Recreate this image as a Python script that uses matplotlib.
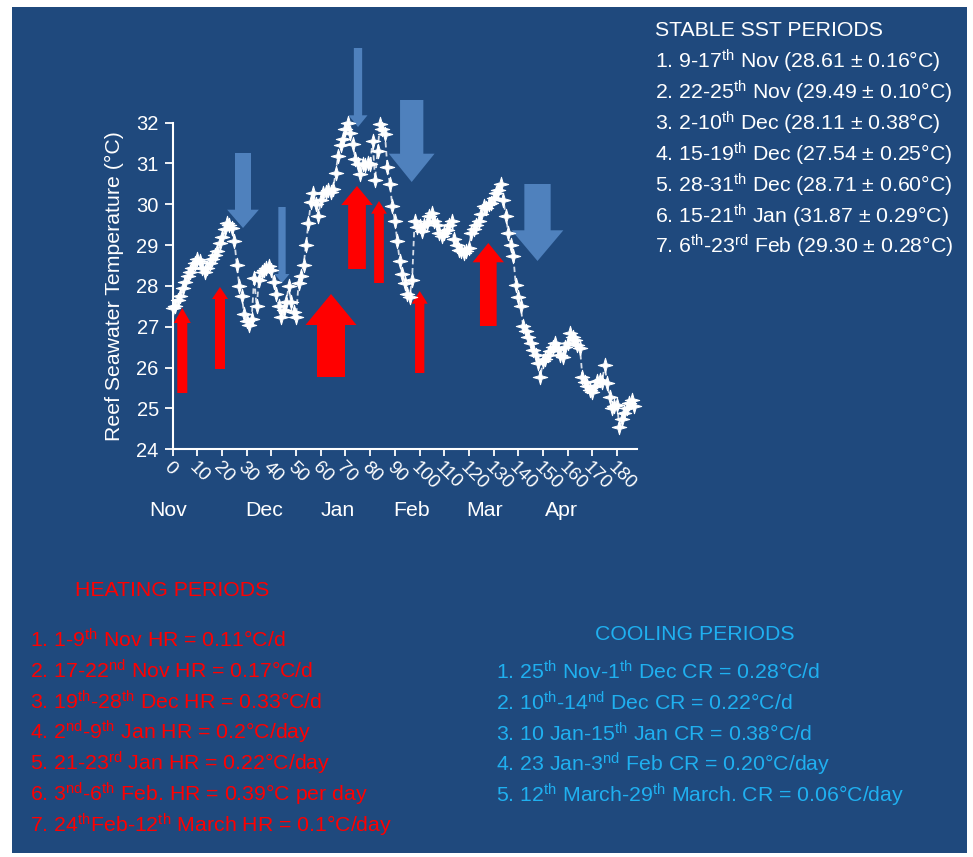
import matplotlib
matplotlib.use("Agg")
import matplotlib.pyplot as plt
from matplotlib.patches import Polygon
from matplotlib.path import Path
import matplotlib.transforms as mtransforms
import numpy as np

plt.rcParams['font.family'] = ['Liberation Sans', 'DejaVu Sans']
plt.rcParams['mathtext.fontset'] = 'custom'
plt.rcParams['mathtext.rm'] = 'Liberation Sans'
plt.rcParams['mathtext.it'] = 'Liberation Sans:italic'
plt.rcParams['mathtext.bf'] = 'Liberation Sans:bold'

# ---------------- data ----------------
temps = [
    27.45, 27.5, 27.65, 27.75, 27.95, 28.1, 28.25, 28.35, 28.45, 28.55,
    28.65, 28.6, 28.45, 28.35, 28.45, 28.55, 28.65, 28.75, 28.85, 29.05,
    29.2, 29.4, 29.55, 29.5, 29.42, 29.1, 28.5, 28.0, 27.75, 27.3,
    27.15, 27.05, 27.2, 28.2, 27.5, 28.15, 28.35, 28.4, 28.45, 28.48,
    28.4, 28.1, 27.8, 27.5, 27.25, 27.4, 27.6, 28.0, 27.6, 27.35,
    27.25, 28.07, 28.24, 28.5, 29.0, 29.55, 30.05, 30.28, 30.0, 29.7,
    30.1, 30.28, 30.3, 30.35, 30.3, 30.36, 30.77, 31.18, 31.45, 31.6,
    31.83, 32.0, 31.75, 31.47, 31.1, 30.98, 30.75, 30.98, 30.95, 31.0,
    30.98, 31.55, 30.6, 31.3, 31.96, 31.85, 31.71, 30.9, 30.5, 29.95,
    29.6, 29.1, 28.6, 28.3, 28.07, 27.8, 27.74, 28.15, 29.59, 29.45,
    29.46, 29.35, 29.5, 29.55, 29.7, 29.79, 29.6, 29.5, 29.3, 29.22,
    29.3, 29.38, 29.5, 29.59, 29.14, 29.0, 28.89, 28.85, 28.81, 28.85,
    28.93, 29.3, 29.4, 29.5, 29.6, 29.75, 29.95, 29.9, 30.0, 30.04,
    30.15, 30.28, 30.35, 30.49, 30.1, 29.7, 29.3, 29.0, 28.73, 28.03,
    27.74, 27.5, 27.01, 26.9, 26.76, 26.6, 26.44, 26.3, 26.11, 25.78,
    26.15, 26.2, 26.3, 26.4, 26.5, 26.6, 26.45, 26.3, 26.27, 26.5,
    26.6, 26.85, 26.75, 26.68, 26.55, 26.48, 25.78, 25.65, 25.54, 25.45,
    25.41, 25.55, 25.66, 25.7, 25.65, 26.07, 25.62, 25.29, 25.0, 25.05,
    25.09, 24.55, 24.75, 24.88, 25.0, 25.13, 25.21, 25.05,
]
days = list(range(len(temps)))

x_ticks = list(range(0, 181, 10))
y_ticks = list(range(24, 33))
months = ["Nov", "Dec", "Jan", "Feb", "Mar", "Apr"]
y_label = "Reef Seawater Temperature (°C)"

stable_title = "STABLE SST PERIODS"
stable_lines = [
    r"1. 9-17$^{\mathrm{th}}$ Nov (28.61 ± 0.16°C)",
    r"2. 22-25$^{\mathrm{th}}$ Nov (29.49 ± 0.10°C)",
    r"3. 2-10$^{\mathrm{th}}$ Dec (28.11 ± 0.38°C)",
    r"4. 15-19$^{\mathrm{th}}$ Dec (27.54 ± 0.25°C)",
    r"5. 28-31$^{\mathrm{th}}$ Dec (28.71 ± 0.60°C)",
    r"6. 15-21$^{\mathrm{th}}$ Jan (31.87 ± 0.29°C)",
    r"7. 6$^{\mathrm{th}}$-23$^{\mathrm{rd}}$ Feb (29.30 ± 0.28°C)",
]
heating_title = "HEATING PERIODS"
heating_lines = [
    r"1. 1-9$^{\mathrm{th}}$ Nov HR = 0.11°C/d",
    r"2. 17-22$^{\mathrm{nd}}$ Nov HR = 0.17°C/d",
    r"3. 19$^{\mathrm{th}}$-28$^{\mathrm{th}}$ Dec HR = 0.33°C/d",
    r"4. 2$^{\mathrm{nd}}$-9$^{\mathrm{th}}$ Jan HR = 0.2°C/day",
    r"5. 21-23$^{\mathrm{rd}}$ Jan HR = 0.22°C/day",
    r"6. 3$^{\mathrm{nd}}$-6$^{\mathrm{th}}$ Feb. HR = 0.39°C per day",
    r"7. 24$^{\mathrm{th}}$Feb-12$^{\mathrm{th}}$ March HR = 0.1°C/day",
]
cooling_title = "COOLING PERIODS"
cooling_lines = [
    r"1. 25$^{\mathrm{th}}$ Nov-1$^{\mathrm{th}}$ Dec CR = 0.28°C/d",
    r"2. 10$^{\mathrm{th}}$-14$^{\mathrm{nd}}$ Dec CR = 0.22°C/d",
    r"3. 10 Jan-15$^{\mathrm{th}}$ Jan CR = 0.38°C/d",
    r"4. 23 Jan-3$^{\mathrm{nd}}$ Feb CR = 0.20°C/day",
    r"5. 12$^{\mathrm{th}}$ March-29$^{\mathrm{th}}$ March. CR = 0.06°C/day",
]

# ---------------- figure ----------------
W, H = 973, 857
fig = plt.figure(figsize=(W / 100, H / 100), dpi=100)
fig.patch.set_facecolor("white")

BG = "#1F497D"
RED = "#FF0000"
BLUE_ARROW = "#4F81BD"
CYAN = "#1FB0F0"
FS = 15.3


def px(x, y):
    return (x / W, 1 - y / H)


bg = fig.add_axes([12 / W, 1 - 853 / H, (967 - 12) / W, (853 - 7) / H], zorder=-5)
bg.set_facecolor(BG)
bg.set_xticks([])
bg.set_yticks([])
for s in bg.spines.values():
    s.set_visible(False)

ax = fig.add_axes([172.7 / W, 1 - 449.3 / H, (636.7 - 172.7) / W, (449.3 - 122.5) / H], zorder=1)
ax.set_facecolor("none")
ax.set_xlim(0, 188)
ax.set_ylim(24, 32)
for s in ["top", "right"]:
    ax.spines[s].set_visible(False)
for s in ["left", "bottom"]:
    ax.spines[s].set_color("white")
    ax.spines[s].set_linewidth(1.5)
ax.set_yticks(y_ticks)
ax.set_yticklabels([str(v) for v in y_ticks], color="white", fontsize=14.5)
ax.set_xticks(x_ticks)
ax.set_xticklabels([str(v) for v in x_ticks], color="white", fontsize=13.5)
ax.tick_params(axis="y", colors="white", length=6, width=1.3, direction="out", pad=4)
ax.tick_params(axis="x", colors="white", length=5, width=1.3, direction="out", pad=6)
offset = mtransforms.ScaledTranslation(-6 / 100, 0, fig.dpi_scale_trans)
for lbl in ax.get_xticklabels():
    lbl.set_rotation(-45)
    lbl.set_rotation_mode("anchor")
    lbl.set_ha("left")
    lbl.set_va("center")
    lbl.set_transform(lbl.get_transform() + offset)
ax.set_ylabel(y_label, color="white", fontsize=15.3, labelpad=9)

# sparkle marker
r = 0.22
sparkle = Path([(0, 1), (r, r), (1, 0), (r, -r), (0, -1), (-r, -r), (-1, 0), (-r, r), (0, 1)],
               [Path.MOVETO] + [Path.LINETO] * 7 + [Path.CLOSEPOLY])

ax.plot(days, temps, color="#d6dde8", lw=1.3, linestyle=(0, (3, 2)),
        marker=sparkle, markersize=10.5, markerfacecolor="white",
        markeredgecolor="white", markeredgewidth=0.7, zorder=5, clip_on=False)

# month labels
month_x = [168, 264, 337.5, 411.5, 485, 561]
for m, xm in zip(months, month_x):
    fig.text(*px(xm, 510), m, color="white", fontsize=FS, ha="center", va="center")


# arrows (pixel geometry)
def arrow(cx, tail, tip, sw, hw, hl, color):
    sign = 1 if tip < tail else -1
    base = tip + sign * hl
    pts = [(cx - sw / 2, tail), (cx - sw / 2, base), (cx - hw / 2, base), (cx, tip),
           (cx + hw / 2, base), (cx + sw / 2, base), (cx + sw / 2, tail)]
    pts = [px(a, b) for a, b in pts]
    p = Polygon(pts, closed=True, transform=fig.transFigure, facecolor=color,
                edgecolor="none", zorder=3, clip_on=False)
    ax.add_artist(p)


# red heating arrows
arrow(182.3, 393, 308, 10, 17, 15, RED)
arrow(220, 369, 287, 10, 16, 12, RED)
arrow(331, 377, 294, 28, 51, 31, RED)
arrow(357, 269, 186, 17.7, 31.6, 19, RED)
arrow(379, 283, 201, 9.7, 15.6, 12.7, RED)
arrow(419.7, 373, 291, 9.3, 16, 12.7, RED)
arrow(488.3, 326, 243, 16.7, 31.3, 19.3, RED)

# blue cooling arrows
arrow(243, 153, 228, 16, 31.7, 18.3, BLUE_ARROW)
arrow(282, 207, 283, 7.3, 15, 9, BLUE_ARROW)
arrow(358, 48, 127, 8.3, 19, 11.7, BLUE_ARROW)
arrow(411.7, 100, 182, 23.3, 45.7, 28.3, BLUE_ARROW)
arrow(537.5, 184, 261, 26.3, 51.7, 30.7, BLUE_ARROW)

# stable text
fig.text(*px(655, 30), stable_title, color="white", fontsize=FS, ha="left", va="center")
for i, t in enumerate(stable_lines):
    fig.text(*px(655, 61.7 + 30.85 * i), t, color="white", fontsize=FS,
             ha="left", va="center")

# heating text
fig.text(*px(75, 590.7), heating_title, color=RED, fontsize=FS, ha="left", va="center")
for i, t in enumerate(heating_lines):
    fig.text(*px(30, 640 + 30.85 * i), t, color=RED, fontsize=FS,
             ha="left", va="center")

# cooling text
fig.text(*px(695, 634), cooling_title, color=CYAN, fontsize=FS, ha="center", va="center")
for i, t in enumerate(cooling_lines):
    fig.text(*px(496, 672.3 + 30.7 * i), t, color=CYAN, fontsize=FS,
             ha="left", va="center")

fig.savefig("out.png", dpi=100, facecolor="white")
